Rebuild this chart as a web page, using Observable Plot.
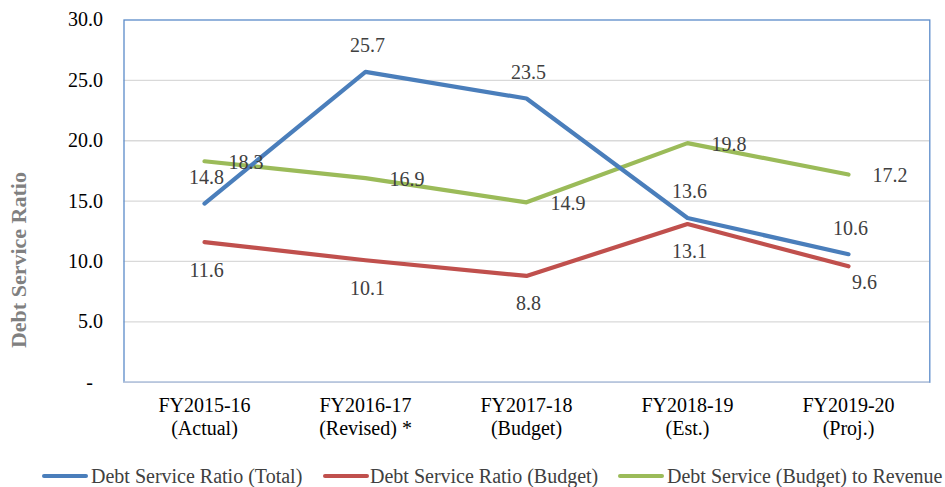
<!DOCTYPE html>
<html>
<head>
<meta charset="utf-8">
<script src="https://cdn.jsdelivr.net/npm/d3@7"></script>
<script src="https://cdn.jsdelivr.net/npm/@observablehq/plot@0.6"></script>
<style>
  html, body { margin: 0; padding: 0; background: #fff; }
  #wrap { position: relative; width: 945px; height: 487px; font-family: "Liberation Serif", "DejaVu Serif", "Noto Serif", Times, serif; }
  #chart svg, #chart svg text { font-family: "Liberation Serif", "DejaVu Serif", "Noto Serif", Times, serif !important; }
  #legend { position: absolute; left: 0; top: 462px; width: 945px; height: 28px; font-size: 20px; color: #404040; }
  .item { position: absolute; top: 0; height: 28px; line-height: 28px; white-space: nowrap; }
  .sw { position: absolute; top: 12px; height: 4px; width: 46px; border-radius: 2px; }
  .lbl { position: absolute; top: 0; }
</style>
</head>
<body>
<div id="wrap">
  <div id="chart"></div>
  <div id="legend"></div>
</div>
<script>
const categories = ["FY2015-16\n(Actual)", "FY2016-17\n(Revised) *", "FY2017-18\n(Budget)", "FY2018-19\n(Est.)", "FY2019-20\n(Proj.)"];
const seriesNames = ["Debt Service Ratio (Total)", "Debt Service Ratio (Budget)", "Debt Service (Budget) to Revenue"];
const totalValues = [14.8, 25.7, 23.5, 13.6, 10.6];
const budgetValues = [11.6, 10.1, 8.8, 13.1, 9.6];
const revenueValues = [18.3, 16.9, 14.9, 19.8, 17.2];
const yTicks = [0, 5, 10, 15, 20, 25, 30];
const colors = ["#4a7ebb", "#c0504d", "#9bbb59"];

const rows = (vals, s) => vals.map((v, i) => ({cat: categories[i], value: v, series: s}));
const total = rows(totalValues, seriesNames[0]);
const budget = rows(budgetValues, seriesNames[1]);
const revenue = rows(revenueValues, seriesNames[2]);
const font = "'Liberation Serif', 'DejaVu Serif', serif";
const labelFill = "#404040";

const chart = Plot.plot({
  width: 945,
  height: 450,
  marginTop: 19.5,
  marginBottom: 68.3,
  marginLeft: 123.5,
  marginRight: 15.7,
  style: {fontFamily: font, background: "#fff"},
  x: {type: "point", domain: categories, padding: 0.5, axis: null},
  y: {domain: [0, 30], axis: null},
  marks: [
    Plot.gridY(yTicks.filter(d => d > 0 && d < 30), {stroke: "#d9d9d9", strokeOpacity: 1, strokeWidth: 1.3}),
    Plot.frame({stroke: "#5b8bc9", strokeWidth: 1.3}),
    Plot.ruleY([0], {stroke: "#d0d4e0", strokeWidth: 1.3}),
    Plot.axisY(yTicks, {
      tickSize: 0, tickPadding: 21, fontSize: 20, fill: "#000",
      tickFormat: d => d === 0 ? "-\u00a0\u00a0" : d.toFixed(1), label: null
    }),
    Plot.text(categories, {
      x: d => d, frameAnchor: "bottom", text: d => d, lineAnchor: "top", lineHeight: 1.15,
      dy: 13, fontSize: 20, fill: "#000"
    }),
    Plot.text(["Debt Service Ratio"], {
      frameAnchor: "left", textAnchor: "middle", text: d => d, rotate: -90, dx: -105, dy: 59,
      fontSize: 22, fontWeight: "bold", fill: "#808080"
    }),
    Plot.line(budget, {x: "cat", y: "value", stroke: colors[1], strokeWidth: 4.2, strokeLinejoin: "round"}),
    Plot.line(revenue, {x: "cat", y: "value", stroke: colors[2], strokeWidth: 4.2, strokeLinejoin: "round"}),
    Plot.line(total, {x: "cat", y: "value", stroke: colors[0], strokeWidth: 4.2, strokeLinejoin: "round"}),
    Plot.text(total, {x: "cat", y: "value", text: d => d.value.toFixed(1), dy: -26, dx: 2, fontSize: 20, fill: labelFill}),
    Plot.text(budget.slice(0, 4), {x: "cat", y: "value", text: d => d.value.toFixed(1), dy: 28, dx: 2, fontSize: 20, fill: labelFill}),
    Plot.text(budget.slice(4), {x: "cat", y: "value", text: d => d.value.toFixed(1), dy: 16, dx: 16, fontSize: 20, fill: labelFill}),
    Plot.text(revenue, {x: "cat", y: "value", text: d => d.value.toFixed(1), dy: 1, dx: 24, textAnchor: "start", fontSize: 20, fill: labelFill})
  ]
});
document.getElementById("chart").appendChild(chart);

const legendPos = [[42, 91], [323, 370], [618, 667]];
const legend = document.getElementById("legend");
seriesNames.forEach((name, i) => {
  const sw = document.createElement("div");
  sw.className = "sw";
  sw.style.left = legendPos[i][0] + "px";
  sw.style.background = colors[i];
  legend.appendChild(sw);
  const t = document.createElement("div");
  t.className = "lbl item";
  t.style.left = legendPos[i][1] + "px";
  t.textContent = name;
  legend.appendChild(t);
});
</script>
</body>
</html>
